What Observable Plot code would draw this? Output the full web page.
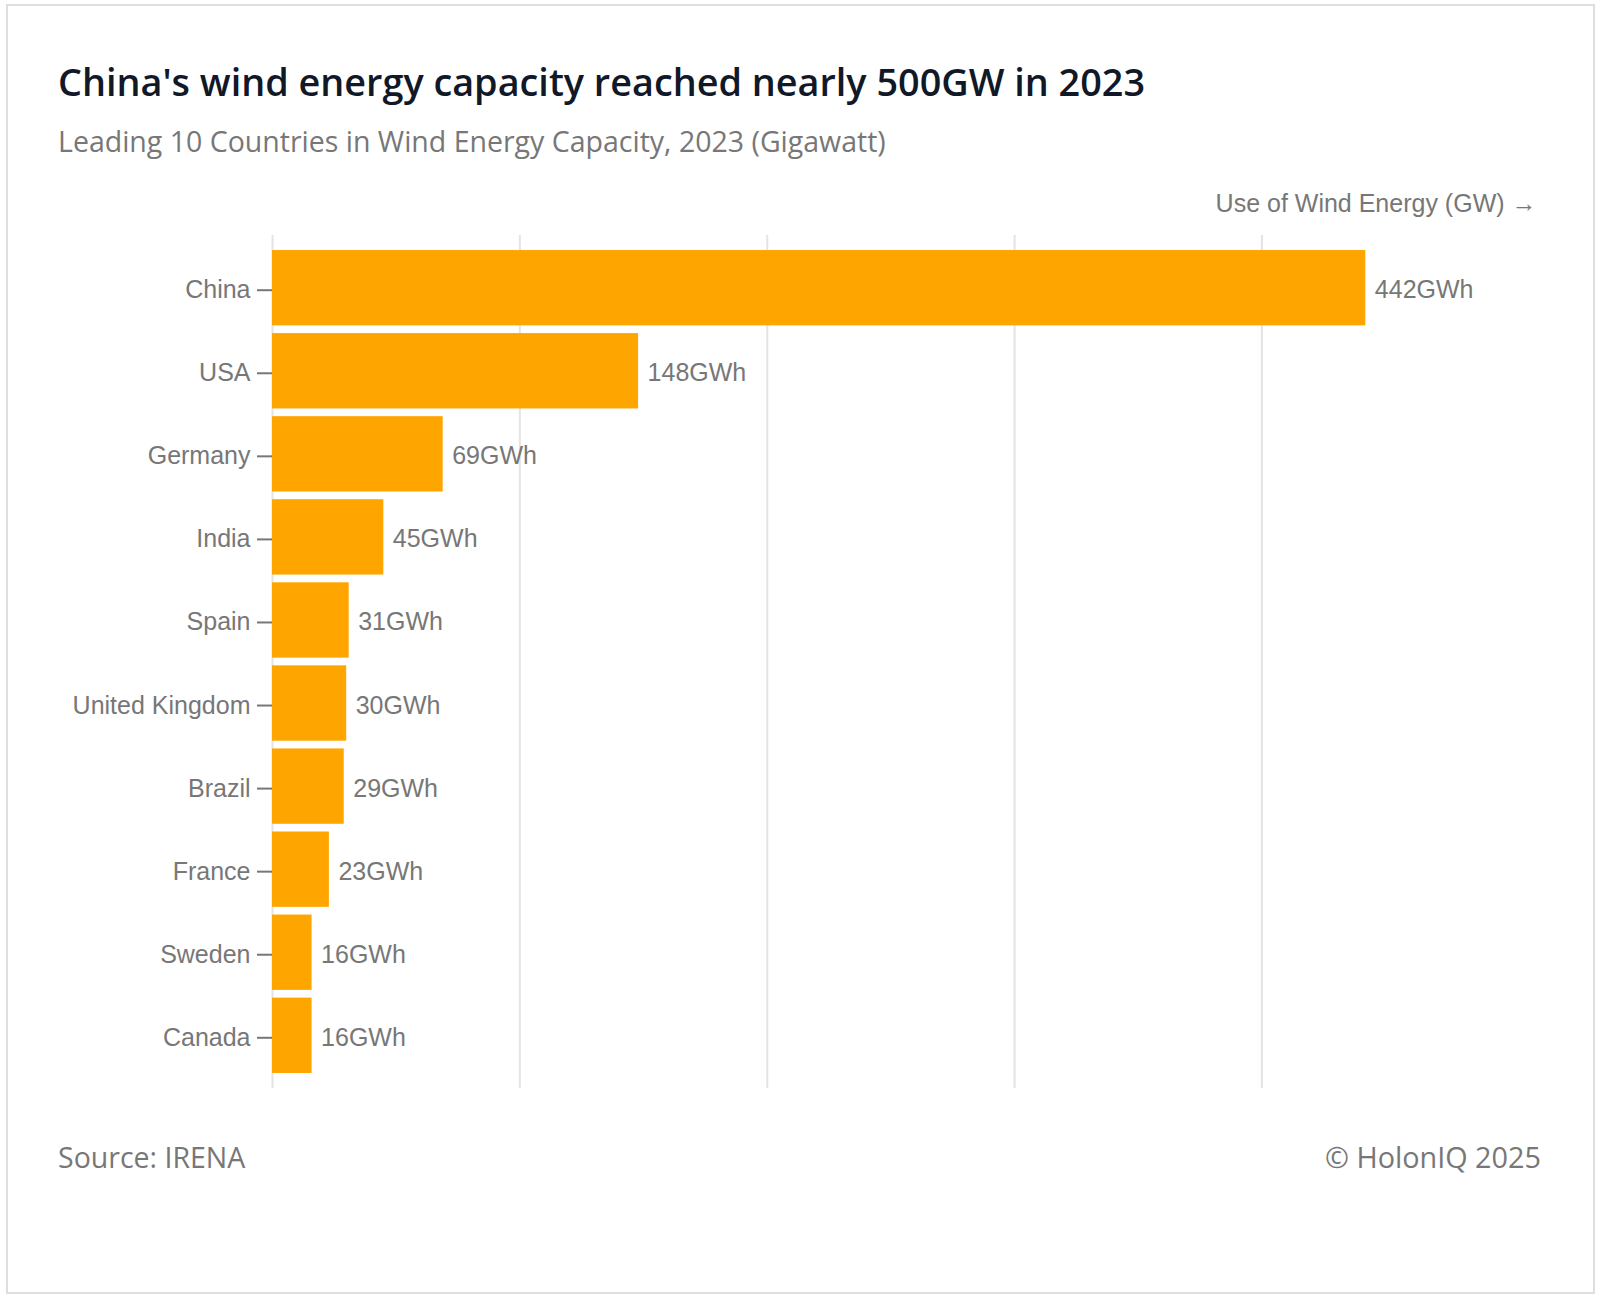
<!DOCTYPE html>
<html>
<head>
<meta charset="utf-8">
<script src="https://cdn.jsdelivr.net/npm/d3@7"></script>
<script src="https://cdn.jsdelivr.net/npm/@observablehq/plot@0.6"></script>
<style>
  html, body { margin: 0; padding: 0; background: #fff; }
  #page { position: relative; width: 1600px; height: 1298px; overflow: hidden; background: #fff; }
  #border { position: absolute; left: 6px; top: 4px; width: 1585px; height: 1286px; border: 2px solid #dedede; }
  .txt { position: absolute; white-space: nowrap; line-height: 1; }
  #title { left: 58px; top: 63px; font-family: "Open Sans", "Noto Sans", sans-serif; font-weight: 600; font-size: 37.8px; color: #111827; }
  #subtitle { left: 58px; top: 127px; font-family: "Open Sans", "Noto Sans", sans-serif; font-size: 28.5px; color: #777; }
  #source { left: 58px; top: 1143px; font-family: "Open Sans", "Noto Sans", sans-serif; font-size: 28.5px; color: #777; }
  #credit { right: 59px; top: 1143px; font-family: "Open Sans", "Noto Sans", sans-serif; font-size: 28.8px; color: #777; }
  #chart { position: absolute; left: 0; top: 187px; }
  #chart svg { background: transparent !important; }
</style>
</head>
<body>
<div id="page">
  <div id="border"></div>
  <div id="title" class="txt">China's wind energy capacity reached nearly 500GW in 2023</div>
  <div id="subtitle" class="txt">Leading 10 Countries in Wind Energy Capacity, 2023 (Gigawatt)</div>
  <div id="chart"></div>
  <div id="source" class="txt">Source: IRENA</div>
  <div id="credit" class="txt">© HolonIQ 2025</div>
</div>
<script>
const countries = ["China", "USA", "Germany", "India", "Spain", "United Kingdom", "Brazil", "France", "Sweden", "Canada"];
const capacity = [442, 148, 69, 45, 31, 30, 29, 23, 16, 16];
const xTicks = [0, 100, 200, 300, 400];
const xLabel = "Use of Wind Energy (GW) →";
const valueSuffix = "GWh";

const data = countries.map((c, i) => ({country: c, value: capacity[i]}));

const chart = Plot.plot({
  width: 1600,
  height: 901,
  marginLeft: 272,
  marginRight: 64,
  marginTop: 48,
  marginBottom: 0,
  style: {fontFamily: "'Liberation Sans', Arial, sans-serif", fontSize: "25px", color: "#777", background: "transparent", overflow: "visible"},
  x: {domain: [0, 511], axis: null},
  y: {domain: countries, paddingInner: 0.093, paddingOuter: 0.181, round: false, label: null, axis: null},
  marks: [
    Plot.gridX(xTicks, {stroke: "#e4e4e4", strokeOpacity: 1, strokeWidth: 2}),
    Plot.text([xLabel], {frameAnchor: "top-right", textAnchor: "end", lineAnchor: "middle", dy: -32, fill: "#777", fontSize: 25}),
    Plot.barX(data, {x: "value", y: "country", fill: "#FFA500"}),
    Plot.axisY({tickSize: 15, tickPadding: 7, strokeWidth: 2, label: null, fontSize: 25, dy: 2}),
    Plot.text(data, {x: "value", y: "country", text: d => d.value + valueSuffix, textAnchor: "start", dx: 9, dy: 2, fill: "#777", fontSize: 25})
  ]
});
document.getElementById("chart").appendChild(chart);
</script>
</body>
</html>
